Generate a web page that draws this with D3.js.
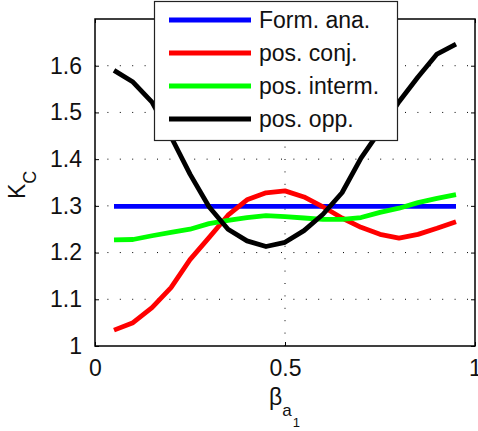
<!DOCTYPE html>
<html>
<head>
<meta charset="utf-8">
<script src="https://cdn.jsdelivr.net/npm/d3@7/dist/d3.min.js"></script>
<style>
html,body{margin:0;padding:0;background:#fff;}
svg{display:block;font-family:"Liberation Sans",Arial,Helvetica,sans-serif;}
</style>
</head>
<body>
<svg id="chart" width="478" height="431"></svg>
<script>
const xValues = [0.05,0.10,0.15,0.20,0.25,0.30,0.35,0.40,0.45,0.50,0.55,0.60,0.65,0.70,0.75,0.80,0.85,0.90,0.95];
const formAna   = [1.299,1.299,1.299,1.299,1.299,1.299,1.299,1.299,1.299,1.299,1.299,1.299,1.299,1.299,1.299,1.299,1.299,1.299,1.299];
const posConj   = [1.034,1.050,1.082,1.125,1.185,1.232,1.280,1.313,1.328,1.332,1.319,1.298,1.274,1.254,1.239,1.231,1.239,1.252,1.266];
const posInterm = [1.227,1.228,1.236,1.243,1.250,1.262,1.269,1.275,1.279,1.277,1.274,1.271,1.271,1.275,1.286,1.295,1.307,1.316,1.324];
const posOpp    = [1.590,1.565,1.522,1.448,1.368,1.298,1.250,1.225,1.213,1.222,1.247,1.282,1.328,1.402,1.461,1.523,1.576,1.625,1.646];
const seriesNames = ["Form. ana.","pos. conj.","pos. interm.","pos. opp."];
const seriesColors = ["#0000ff","#ff0000","#00ff00","#000000"];
const xTicks = [0,0.5,1];
const xTickLabels = ["0","0.5","1"];
const yTicks = [1,1.1,1.2,1.3,1.4,1.5,1.6];
const yTickLabels = ["1","1.1","1.2","1.3","1.4","1.5","1.6"];

const allSeries = [formAna,posConj,posInterm,posOpp];
const svg = d3.select("#chart");
const L = 95, R = 475, T = 19, B = 346;
const x = d3.scaleLinear().domain([0,1]).range([L,R]);
const y = d3.scaleLinear().domain([1,1.7]).range([B,T]);
const fs = 23;

// grid
const grid = svg.append("g");
yTicks.filter(v=>v>1).forEach(v=>{
  grid.append("line").attr("x1",L).attr("x2",R).attr("y1",y(v)).attr("y2",y(v))
    .attr("stroke","#000").attr("stroke-width",1).attr("stroke-dasharray","1,11.4");
});
xTicks.filter(v=>v>0 && v<1).forEach(v=>{
  grid.append("line").attr("y1",B).attr("y2",T).attr("x1",x(v)).attr("x2",x(v))
    .attr("stroke","#000").attr("stroke-width",1).attr("stroke-dasharray","1,11.4");
});

// axes ticks (inward) on all four sides
const tl = 4;
const axB = svg.append("g").attr("transform",`translate(0,${B})`)
  .call(d3.axisBottom(x).tickValues(xTicks).tickSize(-tl).tickPadding(14).tickFormat((d,i)=>xTickLabels[i]));
const axL = svg.append("g").attr("transform",`translate(${L},0)`)
  .call(d3.axisLeft(y).tickValues(yTicks).tickSize(-tl).tickPadding(13).tickFormat((d,i)=>yTickLabels[i]));
const axT = svg.append("g").attr("transform",`translate(0,${T})`)
  .call(d3.axisTop(x).tickValues(xTicks).tickSize(-tl).tickFormat(""));
const axR = svg.append("g").attr("transform",`translate(${R},0)`)
  .call(d3.axisRight(y).tickValues(yTicks).tickSize(-tl).tickFormat(""));
[axB,axL,axT,axR].forEach(a=>{
  a.select(".domain").remove();
  a.selectAll("line").attr("stroke","#000");
  a.selectAll("text").attr("font-size",fs).attr("font-family","'Liberation Sans',Arial,sans-serif").attr("fill","#111");
});
axB.selectAll("text").attr("dy","0.71em");

// lines
const line = d3.line().x((d,i)=>x(xValues[i])).y(d=>y(d));
allSeries.forEach((s,k)=>{
  svg.append("path").datum(s).attr("d",line).attr("fill","none")
    .attr("stroke",seriesColors[k]).attr("stroke-width",4.8).attr("stroke-linejoin","round");
});

// box
svg.append("rect").attr("x",L).attr("y",T).attr("width",R-L).attr("height",B-T)
  .attr("fill","none").attr("stroke","#000").attr("stroke-width",1.5);

// axis labels
const xl = svg.append("text").attr("x",269).attr("y",405).attr("font-size",fs).attr("fill","#111");
xl.append("tspan").text("β");
xl.append("tspan").attr("font-size",17).attr("dy",11).text("a");
xl.append("tspan").attr("font-size",13).attr("dy",11).attr("dx",1).text("1");

const yl = svg.append("text").attr("transform","translate(25,199) rotate(-90)").attr("font-size",fs).attr("fill","#111");
yl.append("tspan").text("K");
yl.append("tspan").attr("font-size",18).attr("dy",11).text("C");

// legend
const lg = svg.append("g");
lg.append("rect").attr("x",154.5).attr("y",1.5).attr("width",243).attr("height",139)
  .attr("fill","#fff").attr("stroke","#222").attr("stroke-width",1.2);
seriesNames.forEach((n,k)=>{
  const yy = 20 + k*33;
  lg.append("line").attr("x1",169).attr("x2",251).attr("y1",yy).attr("y2",yy)
    .attr("stroke",seriesColors[k]).attr("stroke-width",4.8);
  lg.append("text").attr("x",259).attr("y",yy).attr("dy","0.35em").attr("font-size",fs).attr("fill","#111").text(n);
});
</script>
</body>
</html>
